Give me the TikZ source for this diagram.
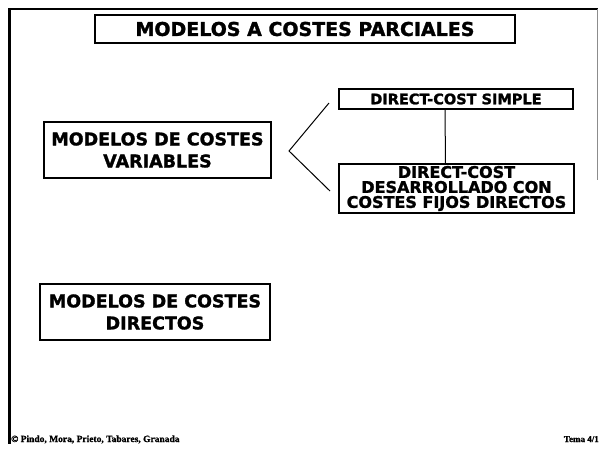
\documentclass[tikz,border=0pt]{standalone}
\usepackage{fontspec}
\newfontfamily\boxfont{DejaVu Sans}[BoldFeatures={FakeBold=1.5}]
\newfontfamily\footfont{Liberation Serif}[BoldFeatures={FakeBold=1}]
\usetikzlibrary{positioning}

\begin{document}
\begin{tikzpicture}[x=1pt, y=-1pt,
    modelbox/.style={draw, line width=1.2pt, inner sep=0pt, align=center},
    bigtext/.style={font=\boxfont\bfseries\fontsize{17.5}{22}\selectfont},
    smalltext/.style={font=\boxfont\bfseries\fontsize{14.5}{15}\selectfont}]
      \useasboundingbox (0,0) rectangle (600,448);
      % Marco de la transparencia
      \draw[line width=2pt] (8,9) -- (598,9);
      \draw[line width=3pt] (9,8) -- (9,444);
      \draw[line width=0.6pt, black!45] (597,9) -- (597,180);

      % Titulo
      \node[modelbox, minimum width=420, minimum height=28,
            font=\boxfont\bfseries\fontsize{19}{20}\selectfont] (titulo) at (305,29) {MODELOS A COSTES PARCIALES};

      % Modelos de costes variables y sus dos variantes
      \node[modelbox, bigtext, minimum width=227, minimum height=56] (variables) at (157.5,150) {MODELOS DE COSTES\\VARIABLES};
      \node[modelbox, smalltext, minimum width=234, minimum height=20] (simple) at (456,99) {DIRECT-COST SIMPLE};
      \node[modelbox, smalltext, font=\boxfont\bfseries\fontsize{16}{15}\selectfont, minimum width=235, minimum height=49] (desarrollado) at (456.5,188.5) {DIRECT-COST\\DESARROLLADO CON\\COSTES FIJOS DIRECTOS};
      \coordinate (vertice) at (289,151);
      \coordinate (ramaA) at (329,103);
      \coordinate (ramaB) at (330,191);
      \draw[line width=1pt] (ramaA) -- (vertice) -- (ramaB);
      \draw[line width=1pt] ([xshift=-11pt]simple.south) -- ([xshift=-11pt]desarrollado.north);

      % Modelos de costes directos
      \node[modelbox, bigtext, minimum width=230, minimum height=56] (directos) at (155,312) {MODELOS DE COSTES\\DIRECTOS};

      % Pie
      \node[font=\footfont\bfseries\fontsize{9.5}{10}\selectfont, anchor=base west, inner sep=0pt] (autores) at (11,442) {\textcopyright{} Pindo, Mora, Prieto, Tabares, Granada};
      \node[font=\footfont\bfseries\fontsize{9}{10}\selectfont, anchor=base east, inner sep=0pt] (tema) at (599,442) {Tema 4/1};
\end{tikzpicture}
\end{document}
